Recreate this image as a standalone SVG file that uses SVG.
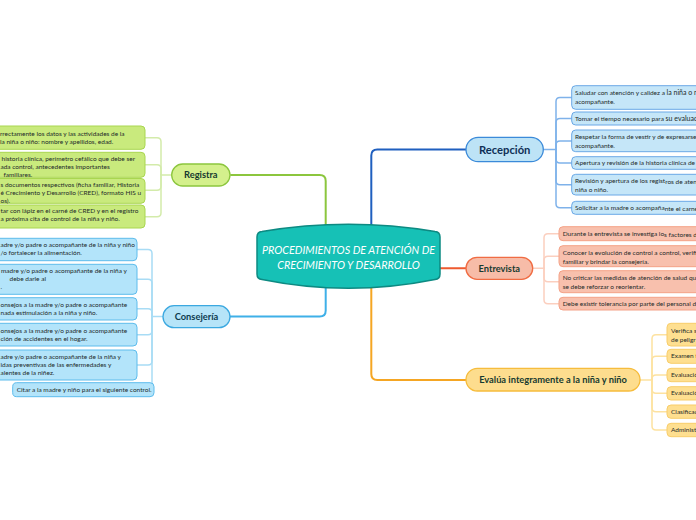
<svg xmlns="http://www.w3.org/2000/svg" width="696" height="520" viewBox="0 0 696 520">
<style>
.t{font-family:Lato,"Liberation Sans",sans-serif;font-size:6.5px;fill:#1e2b2a}
.lbl{font-family:Lato,"Liberation Sans",sans-serif;font-weight:bold;font-size:9.3px;text-anchor:middle;fill:#163a30}
.ctr{font-family:Lato,"Liberation Sans",sans-serif;font-style:italic;font-size:10.8px;text-anchor:middle;fill:#ffffff}
.c{fill:none;stroke-linecap:round;stroke-linejoin:round}
.gM{stroke:#8cc63e;stroke-width:2}
.lbM{stroke:#3fb0e8;stroke-width:2}
.bM{stroke:#1f5fbf;stroke-width:2}
.rM{stroke:#ee5a2f;stroke-width:2}
.oM{stroke:#f5a623;stroke-width:2}
.gS{stroke:#d3ebaa;stroke-width:1.5}
.lbS{stroke:#a8dcf5;stroke-width:1.5}
.bS{stroke:#7fb2ea;stroke-width:1.5}
.rS{stroke:#fbcfbf;stroke-width:1.5}
.oS{stroke:#fde2a0;stroke-width:1.5}
.gN{fill:#d4f08c;stroke:#8cc63e;stroke-width:1.3}
.gC{fill:#c9ea7d;stroke:#a9d650;stroke-width:1}
.lbN{fill:#b6e4f8;stroke:#3ba8e0;stroke-width:1.3}
.lbC{fill:#b3e4fa;stroke:#5dbcec;stroke-width:1}
.bN{fill:#bde3f6;stroke:#3b8ad9;stroke-width:1.3}
.bC{fill:#c5e6f8;stroke:#6aa8e6;stroke-width:1}
.rN{fill:#f7bca8;stroke:#f06c43;stroke-width:1.3}
.rC{fill:#f8c0ad;stroke:#f4a287;stroke-width:1}
.oN{fill:#fddd8e;stroke:#f6bc3c;stroke-width:1.3}
.oC{fill:#fedf90;stroke:#f8cd6a;stroke-width:1}
</style>

<g id="connectors">
  <path class="c gM" d="M325.7,226 V181 Q325.7,175 319.7,175 H231"/>
  <path class="c lbM" d="M325.7,287 V310.5 Q325.7,316.5 319.7,316.5 H230"/>
  <path class="c bM" d="M371.3,226 V155.5 Q371.3,149.5 377.3,149.5 H466"/>
  <path class="c oM" d="M371.3,287 V374 Q371.3,380 377.3,380 H466"/>
  <path class="c rM" d="M440,268.3 H466"/>

  <path class="c gS" d="M171.7,175 H161"/>
  <path class="c gS" d="M161,175 V141.7 Q161,137.7 157,137.7 H145"/>
  <path class="c gS" d="M161,175 V168.8 Q161,164.8 157,164.8 H145"/>
  <path class="c gS" d="M161,175 V186.2 Q161,190.2 157,190.2 H145"/>
  <path class="c gS" d="M161,175 V212.7 Q161,216.7 157,216.7 H145"/>

  <path class="c lbS" d="M163,316.5 H152"/>
  <path class="c lbS" d="M152,316.5 V253.5 Q152,249.5 148,249.5 H137"/>
  <path class="c lbS" d="M152,316.5 V283.3 Q152,279.3 148,279.3 H137"/>
  <path class="c lbS" d="M152,316.5 V312.8 Q152,308.8 148,308.8 H137"/>
  <path class="c lbS" d="M152,316.5 V330.7 Q152,334.7 148,334.7 H137"/>
  <path class="c lbS" d="M152,316.5 V361 Q152,365 148,365 H137"/>
  <path class="c lbS" d="M152,316.5 V383"/>

  <path class="c bS" d="M543.3,149.5 H556"/>
  <path class="c bS" d="M556,149.5 V101.5 Q556,97.5 560,97.5 H571.7"/>
  <path class="c bS" d="M556,149.5 V122.5 Q556,118.5 560,118.5 H571.7"/>
  <path class="c bS" d="M556,149.5 V145 Q556,141 560,141 H571.7"/>
  <path class="c bS" d="M556,149.5 V159 Q556,163 560,163 H571.7"/>
  <path class="c bS" d="M556,149.5 V180.7 Q556,184.7 560,184.7 H571.7"/>
  <path class="c bS" d="M556,149.5 V203.8 Q556,207.8 560,207.8 H571.7"/>

  <path class="c rS" d="M532.7,268.3 H544"/>
  <path class="c rS" d="M544,268.3 V237.7 Q544,233.7 548,233.7 H559"/>
  <path class="c rS" d="M544,268.3 V260.2 Q544,256.2 548,256.2 H559"/>
  <path class="c rS" d="M544,268.3 V277.7 Q544,281.7 548,281.7 H559"/>
  <path class="c rS" d="M544,268.3 V299.7 Q544,303.7 548,303.7 H559"/>

  <path class="c oS" d="M640,380 H652"/>
  <path class="c oS" d="M652,380 V338.7 Q652,334.7 656,334.7 H667"/>
  <path class="c oS" d="M652,380 V360.3 Q652,356.3 656,356.3 H667"/>
  <path class="c oS" d="M652,380 V379 Q652,375 656,375 H667"/>
  <path class="c oS" d="M652,380 V389.3 Q652,393.3 656,393.3 H667"/>
  <path class="c oS" d="M652,380 V407.7 Q652,411.7 656,411.7 H667"/>
  <path class="c oS" d="M652,380 V426 Q652,430 656,430 H667"/>
</g>

<g id="center">
  <path d="M257,237 Q257,232 262,231.5 Q348.5,217 435,231.5 Q440,232 440,237 V274 Q440,279 435,279.5 Q348.5,297 262,279.5 Q257,279 257,274 Z" fill="#16c1b6" stroke="#0d8a82" stroke-width="1.5"/>
  <text class="ctr" x="348.5" y="253.8">PROCEDIMIENTOS DE ATENCIÓN DE</text>
  <text class="ctr" x="348.5" y="268.8">CRECIMIENTO Y DESARROLLO</text>
</g>

<g id="registra">
  <rect class="gN" x="171.7" y="164" width="58.3" height="22" rx="11"/>
  <text class="lbl" x="200.8" y="178.2">Registra</text>
</g>
<g id="registra-1">
  <rect class="gC" x="-30" y="126" width="175" height="23.3" rx="4"/>
  <text class="t" x="0" y="135.5">rrectamente los datos y las actividades de la</text>
  <text class="t" x="0" y="144">la niña o niño: nombre y apellidos, edad.</text>
</g>
<g id="registra-2">
  <rect class="gC" x="-30" y="152.3" width="175" height="25" rx="4"/>
  <text class="t" x="1.5" y="161.3">historia clínica, perímetro cefálico que debe ser</text>
  <text class="t" x="0.5" y="169.3">ada control, antecedentes importantes</text>
  <text class="t" x="3.5" y="177.3">familiares.</text>
</g>
<g id="registra-3">
  <rect class="gC" x="-30" y="178.5" width="175" height="24.8" rx="4"/>
  <text class="t" x="0.5" y="187">s documentos respectivos (ficha familiar, Historia</text>
  <text class="t" x="0.5" y="195.3">é Crecimiento y Desarrollo (CRED), formato HIS u</text>
  <text class="t" x="0.5" y="203">os).</text>
</g>
<g id="registra-4">
  <rect class="gC" x="-30" y="205" width="175" height="23" rx="4"/>
  <text class="t" x="0.5" y="212.7">tar con lápiz en el carné de CRED y en el registro</text>
  <text class="t" x="0.5" y="221">a próxima cita de control de la niña y niño.</text>
</g>

<g id="consejeria">
  <rect class="lbN" x="163" y="305.7" width="67" height="22" rx="11"/>
  <text class="lbl" x="196.5" y="319.9" style="fill:#0d3b4f">Consejería</text>
</g>
<g id="consejeria-1">
  <rect class="lbC" x="-30" y="238.3" width="167" height="22.4" rx="4"/>
  <text class="t" x="0.5" y="247">adre y/o padre o acompañante de la niña y niño</text>
  <text class="t" x="0.5" y="255.3">/o fortalecer la alimentación.</text>
</g>
<g id="consejeria-2">
  <rect class="lbC" x="-30" y="264.3" width="167" height="30" rx="4"/>
  <text class="t" x="1" y="272.7">madre y/o padre o acompañante de la niña y</text>
  <text class="t" x="9.5" y="281.3">debe darle al</text>
  <text class="t" x="0.5" y="289.3">.</text>
</g>
<g id="consejeria-3">
  <rect class="lbC" x="-30" y="297.7" width="167" height="22.3" rx="4"/>
  <text class="t" x="0.5" y="307">onsejos a la madre y/o padre o acompañante</text>
  <text class="t" x="0.5" y="314.7">nada estimulación a la niña y niño.</text>
</g>
<g id="consejeria-4">
  <rect class="lbC" x="-30" y="323.3" width="167" height="22.7" rx="4"/>
  <text class="t" x="0.5" y="333">onsejos a la madre y/o padre o acompañante</text>
  <text class="t" x="0.5" y="340.7">ción de accidentes en el hogar.</text>
</g>
<g id="consejeria-5">
  <rect class="lbC" x="-30" y="350" width="167" height="30" rx="4"/>
  <text class="t" x="0.5" y="358.7">adre y/o padre o acompañante de la niña y</text>
  <text class="t" x="0.5" y="367">idas preventivas de las enfermedades y</text>
  <text class="t" x="0.5" y="375">alentes de la niñez.</text>
</g>
<g id="consejeria-6">
  <rect class="lbC" x="12.7" y="382.7" width="141.3" height="14" rx="4"/>
  <text class="t" x="16.7" y="391.9">Citar a la madre y niño para el siguiente control.</text>
</g>

<g id="recepcion">
  <rect class="bN" x="466" y="137.3" width="77.3" height="24.4" rx="12.2"/>
  <text class="lbl" x="504.7" y="153.5" style="font-size:11.2px;fill:#0e2f55">Recepción</text>
</g>
<g id="recepcion-1">
  <rect class="bC" x="571.7" y="85.7" width="150" height="23.6" rx="4"/>
  <text class="t" x="575" y="95">Saludar con atención y calidez a <tspan style="font-size:7px">la niña o ni</tspan></text>
  <text class="t" x="575" y="104">acompañante.</text>
</g>
<g id="recepcion-2">
  <rect class="bC" x="571.7" y="112" width="150" height="13" rx="4"/>
  <text class="t" x="575" y="120.5">Tomar el tiempo necesario para <tspan style="font-size:7px" dy="0.7">su evaluaci</tspan></text>
</g>
<g id="recepcion-3">
  <rect class="bC" x="571.7" y="130" width="150" height="21.7" rx="4"/>
  <text class="t" x="575" y="139">Respetar la forma de vestir y de expresarse</text>
  <text class="t" x="575" y="148">acompañante.</text>
</g>
<g id="recepcion-4">
  <rect class="bC" x="571.7" y="156.7" width="150" height="12.6" rx="4"/>
  <text class="t" x="575" y="165">Apertura y revisión de la historia clínica de la</text>
</g>
<g id="recepcion-5">
  <rect class="bC" x="571.7" y="174.3" width="150" height="20.7" rx="4"/>
  <text class="t" x="575" y="183">Revisión y apertura de los regist<tspan dy="1">ros de aten</tspan></text>
  <text class="t" x="575" y="192">niña o niño.</text>
</g>
<g id="recepcion-6">
  <rect class="bC" x="571.7" y="201.3" width="150" height="13" rx="4"/>
  <text class="t" x="575" y="210">Solicitar a la madre o acompaña<tspan dy="1">nte el carne</tspan></text>
</g>

<g id="entrevista">
  <rect class="rN" x="466" y="257.3" width="66.7" height="22" rx="11"/>
  <text class="lbl" x="499.3" y="271.5">Entrevista</text>
</g>
<g id="entrevista-1">
  <rect class="rC" x="559" y="226.7" width="160" height="14" rx="4"/>
  <text class="t" x="562.7" y="235.5">Durante la entrevista se investiga lo<tspan dy="1">s factores d</tspan></text>
</g>
<g id="entrevista-2">
  <rect class="rC" x="559" y="245.7" width="160" height="21" rx="4"/>
  <text class="t" x="562.7" y="254.5">Conocer la evolución de control a control, verific</text>
  <text class="t" x="562.7" y="263.5">familiar y brindar la consejería.</text>
</g>
<g id="entrevista-3">
  <rect class="rC" x="559" y="270.7" width="160" height="22" rx="4"/>
  <text class="t" x="562.7" y="280">No criticar las medidas de atención de salud que</text>
  <text class="t" x="562.7" y="289">se debe reforzar o reorientar.</text>
</g>
<g id="entrevista-4">
  <rect class="rC" x="559" y="297.3" width="160" height="12.7" rx="4"/>
  <text class="t" x="562.7" y="306">Debe existir tolerancia por parte del personal de</text>
</g>

<g id="evalua">
  <rect class="oN" x="466" y="368.3" width="174" height="22.7" rx="11.3"/>
  <text class="lbl" x="553" y="383.2">Evalúa integramente a la niña y niño</text>
</g>
<g id="evalua-1">
  <rect class="oC" x="667" y="323.3" width="60" height="22.7" rx="4"/>
  <text class="t" x="671" y="332.5">Verifica s</text>
  <text class="t" x="671" y="341.5">de peligr</text>
</g>
<g id="evalua-2">
  <rect class="oC" x="667" y="349.3" width="60" height="14" rx="4"/>
  <text class="t" x="671" y="358.3">Examen f</text>
</g>
<g id="evalua-3">
  <rect class="oC" x="667" y="368.3" width="60" height="13.4" rx="4"/>
  <text class="t" x="671" y="377">Evaluació</text>
</g>
<g id="evalua-4">
  <rect class="oC" x="667" y="386.7" width="60" height="13.3" rx="4"/>
  <text class="t" x="671" y="395.3">Evaluació</text>
</g>
<g id="evalua-5">
  <rect class="oC" x="667" y="405" width="60" height="13.3" rx="4"/>
  <text class="t" x="671" y="413.7">Clasificac</text>
</g>
<g id="evalua-6">
  <rect class="oC" x="667" y="423.3" width="60" height="13.4" rx="4"/>
  <text class="t" x="671" y="432">Administ</text>
</g>
</svg>
